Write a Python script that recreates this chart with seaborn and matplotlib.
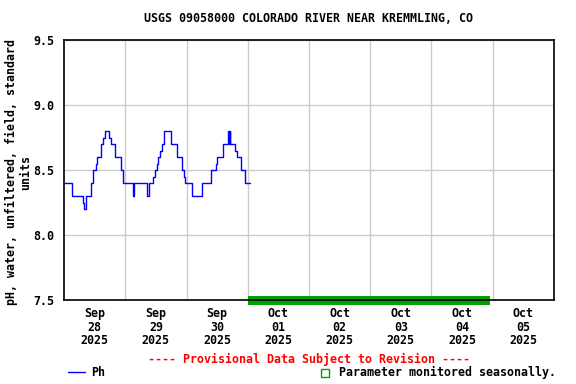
import matplotlib
matplotlib.use("Agg")
import matplotlib.pyplot as plt
import seaborn as sns
import pandas as pd
from matplotlib.patches import Rectangle
from matplotlib.lines import Line2D
from matplotlib.ticker import FixedLocator

# ---- data (hours since 2025-09-28 00:00, pH value; step series) ----
hours = [0.0, 3.0, 7.6, 8.0, 8.8, 10.4, 11.5, 12.5, 13.0, 14.4, 15.1, 15.9,
         17.7, 18.3, 19.8, 20.1, 22.2, 23.0, 27.0, 27.6, 32.4, 33.5, 34.8,
         35.5, 36.5, 37.0, 37.8, 38.3, 39.1, 42.0, 44.1, 46.2, 47.0, 47.5,
         50.1, 54.0, 57.7, 59.5, 60.0, 62.3, 64.4, 64.6, 64.9, 65.1, 67.0,
         67.8, 69.2, 71.0, 72.8]
ph = [8.4, 8.3, 8.25, 8.2, 8.3, 8.4, 8.5, 8.55, 8.6, 8.7, 8.75, 8.8,
      8.75, 8.7, 8.65, 8.6, 8.5, 8.4, 8.3, 8.4, 8.3, 8.4, 8.45,
      8.5, 8.55, 8.6, 8.65, 8.7, 8.8, 8.7, 8.6, 8.5, 8.45, 8.4,
      8.3, 8.4, 8.5, 8.55, 8.6, 8.7, 8.8, 8.7, 8.8, 8.7, 8.65,
      8.6, 8.5, 8.4, 8.4]

tick_hours = [12, 36, 60, 84, 108, 132, 156, 180]
tick_labels = ["Sep\n28\n2025", "Sep\n29\n2025", "Sep\n30\n2025", "Oct\n01\n2025",
               "Oct\n02\n2025", "Oct\n03\n2025", "Oct\n04\n2025", "Oct\n05\n2025"]
grid_hours = [24, 48, 72, 96, 120, 144, 168]
y_ticks = [7.5, 8.0, 8.5, 9.0, 9.5]
seasonal_span = [72.0, 167.0]

title = "USGS 09058000 COLORADO RIVER NEAR KREMMLING, CO"
ylabel = "pH, water, unfiltered, field, standard\nunits"

sns.set_style("white")
plt.rcParams['font.family'] = ['DejaVu Sans Mono', 'DejaVu Sans']
plt.rcParams['font.weight'] = 'bold'
plt.rcParams['text.color'] = 'black'
plt.rcParams['xtick.color'] = 'black'
plt.rcParams['ytick.color'] = 'black'

FS = 8.4
W, H = 576, 384
fig = plt.figure(figsize=(W / 100, H / 100), dpi=100)
ax = fig.add_axes([64 / W, 1 - 300 / H, 490 / W, 260 / H])

df = pd.DataFrame({"hours": hours, "ph": ph})
sns.lineplot(data=df, x="hours", y="ph", ax=ax, color="#0000ff", linewidth=1.0,
             drawstyle="steps-post", estimator=None, sort=False, zorder=3)

ax.set_xlim(0, 192)
ax.set_ylim(7.5, 9.5)
ax.set_xlabel("")
ax.set_ylabel("")

ax.xaxis.set_major_locator(FixedLocator(tick_hours))
ax.set_xticklabels(tick_labels)
ax.xaxis.set_minor_locator(FixedLocator(grid_hours))
ax.set_yticks(y_ticks)
ax.set_yticklabels([f"{v:.1f}" for v in y_ticks])
ax.tick_params(axis='x', which='both', length=0, pad=5, labelsize=FS, labelcolor='black')
ax.tick_params(axis='y', length=0, pad=7, labelsize=FS, labelcolor='black')
for lab in ax.get_xticklabels() + ax.get_yticklabels():
    lab.set_fontweight('bold')
    lab.set_linespacing(1.07)

ax.grid(False)
ax.xaxis.grid(True, which='minor', color='#cccccc', linewidth=1)
ax.yaxis.grid(True, which='major', color='#cccccc', linewidth=1)
ax.set_axisbelow(True)
for s in ax.spines.values():
    s.set_visible(True)
    s.set_color('black')
    s.set_linewidth(1.2)

# seasonal bar along the bottom axis
trans = ax.get_xaxis_transform()
ax.add_patch(Rectangle((seasonal_span[0], -0.019), seasonal_span[1] - seasonal_span[0], 0.034,
                       transform=trans, facecolor='#00a000', edgecolor='none',
                       clip_on=False, zorder=2))

fig.text(309 / W, 1 - 19 / H, title, ha='center', va='center', fontsize=FS,
         fontweight='bold', color='black')
fig.text(18.5 / W, 1 - 172 / H, ylabel, ha='center', va='center', rotation=90,
         fontsize=FS, fontweight='bold', linespacing=1.1, multialignment='center',
         color='black')
fig.text(308.5 / W, 1 - 359 / H, "---- Provisional Data Subject to Revision ----",
         ha='center', va='center', fontsize=FS, fontweight='bold', color='#ff0000')

# legend items
fig.add_artist(Line2D([68 / W, 85 / W], [1 - 372 / H, 1 - 372 / H], color='#0000ff',
                      linewidth=1.0, transform=fig.transFigure))
fig.text(91 / W, 1 - 372 / H, "Ph", ha='left', va='center', fontsize=FS,
         fontweight='bold', color='black')
fig.add_artist(Rectangle((321 / W, 1 - 377 / H), 8 / W, 8 / H, transform=fig.transFigure,
                         facecolor='none', edgecolor='#00a000', linewidth=1.0))
fig.text(339 / W, 1 - 372 / H, "Parameter monitored seasonally.", ha='left', va='center',
         fontsize=FS, fontweight='bold', color='black')

fig.savefig("out.png", dpi=100)
